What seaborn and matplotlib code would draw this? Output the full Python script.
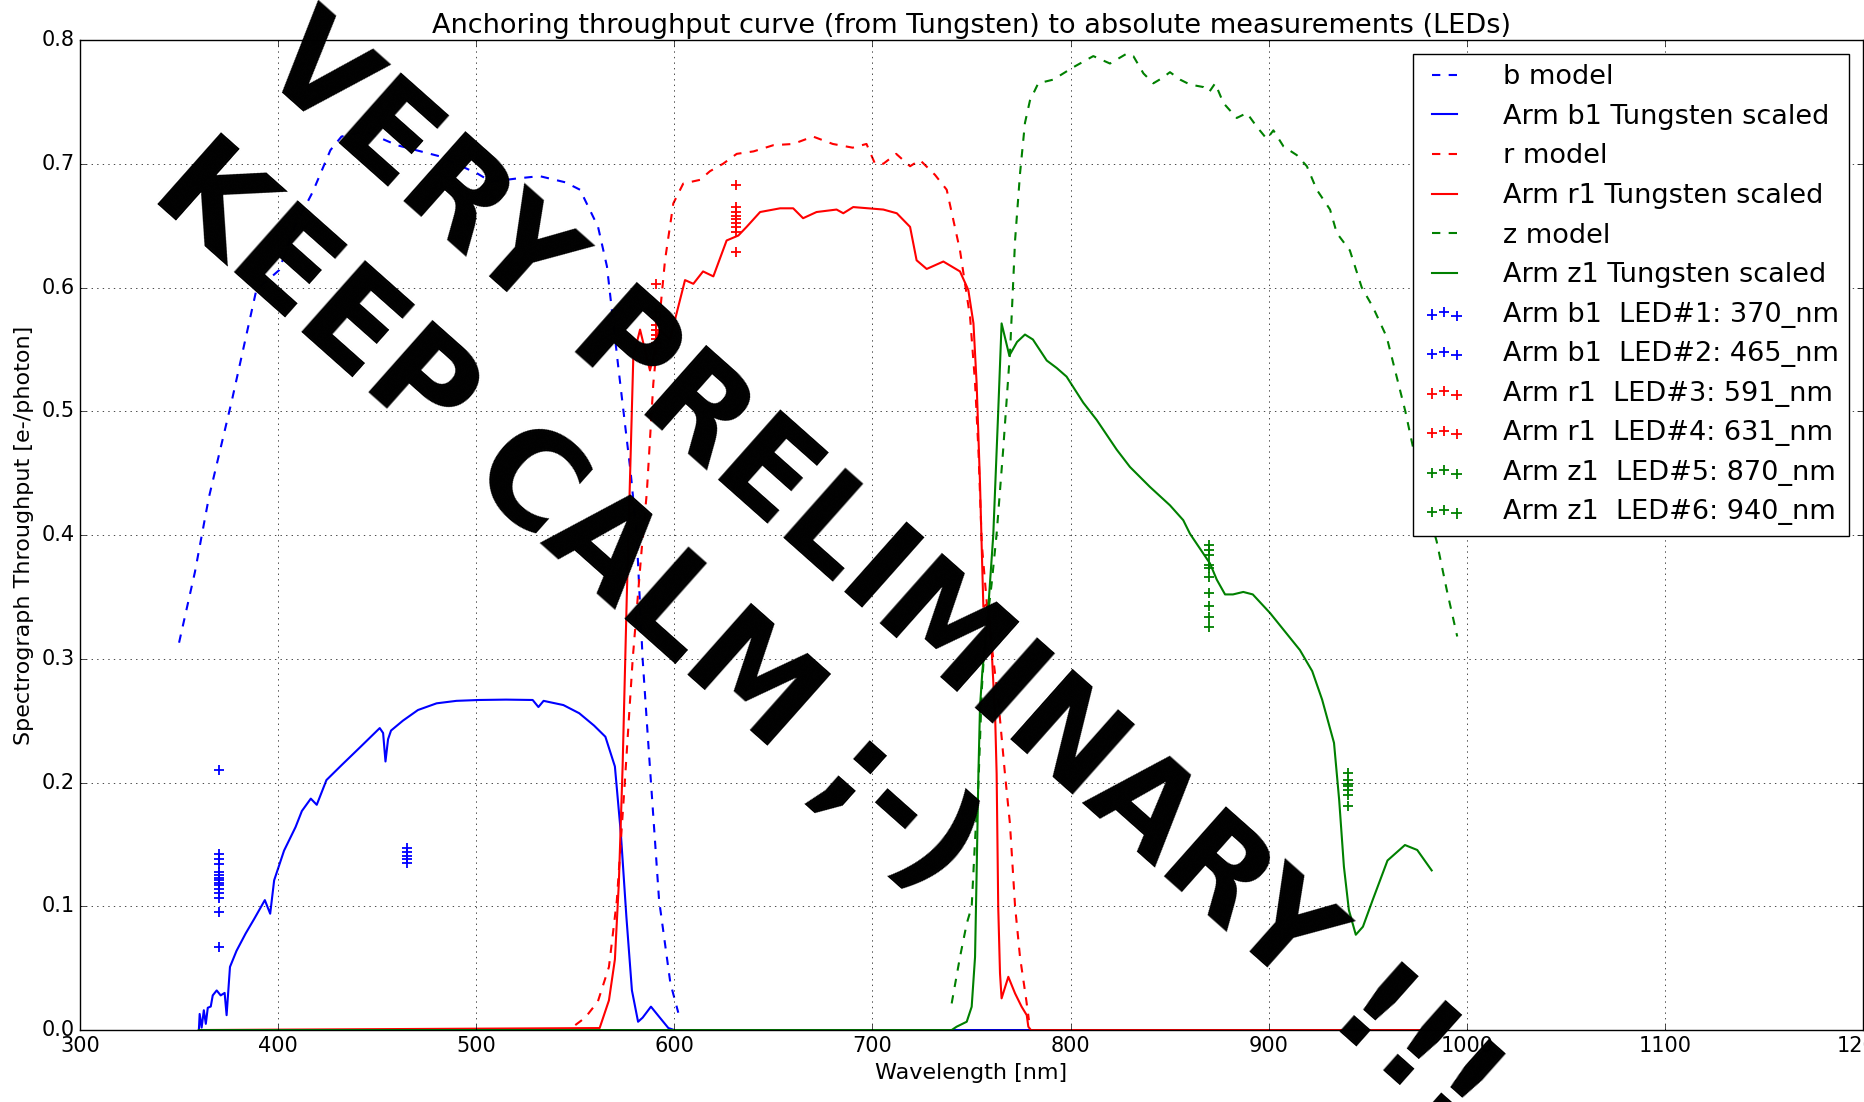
import numpy as np
import seaborn as sns
import matplotlib
matplotlib.use("Agg")
import matplotlib.pyplot as plt

# model curves (dashed)
b_model_wl = [350, 358, 365, 376.7, 389, 400.5, 408.3, 417.4, 426.4, 432, 444, 460, 481.6, 500.7, 507.5,
              520, 532, 545, 552.4, 561.5, 566, 571.7, 578, 581, 584, 586.5, 592.3, 598, 602]
b_model = [0.313, 0.37, 0.43, 0.509, 0.598, 0.614, 0.649, 0.677, 0.711, 0.722, 0.726, 0.715, 0.706, 0.692, 0.6855,
           0.688, 0.69, 0.685, 0.679, 0.649, 0.617, 0.536, 0.45, 0.40, 0.30, 0.24, 0.105, 0.038, 0.014]

r_model_wl = [550, 555, 561.4, 567, 571, 575, 579, 583.5, 586.1, 589.4, 595.3, 599.5, 604.5, 613, 618, 624.6,
              631.5, 640, 650, 660, 670, 680, 690, 697, 701.3, 705.5, 712, 719, 724, 731.6, 737.5, 744.2,
              749.3, 751.8, 753.5, 755.2, 758, 761, 763.5, 766.9, 769.4, 772, 774.5, 777.5, 779]
r_model = [0.004, 0.01, 0.023, 0.051, 0.105, 0.2, 0.3, 0.388, 0.434, 0.5225, 0.622, 0.668, 0.684, 0.687, 0.694, 0.70,
           0.708, 0.71, 0.715, 0.716, 0.722, 0.716, 0.713, 0.716, 0.70, 0.70, 0.708, 0.698, 0.703, 0.691, 0.679, 0.63,
           0.576, 0.523, 0.469, 0.393, 0.34, 0.30, 0.267, 0.207, 0.167, 0.10, 0.059, 0.026, 0.008]

z_model_wl = [740, 744.2, 747.6, 750.1, 751.8, 753.5, 754.3, 755.2, 756.8, 760.2, 762.7, 766, 769.5, 772, 774.5,
              777, 779.5, 783.7, 791.3, 801.4, 811.5, 819.9, 828.4, 831.7, 836.8, 841.8, 846, 850.2, 855.3, 860.3,
              867, 870, 873, 877.2, 883.9, 889, 894, 899.1, 902.4, 907.5, 914.2, 919.3, 924.3, 931, 934.4, 941,
              947, 952.7, 959.6, 969, 977, 984.8, 990, 995.2]
z_model = [0.0215, 0.059, 0.086, 0.0996, 0.1535, 0.199, 0.234, 0.275, 0.315, 0.361, 0.401, 0.469, 0.549, 0.638, 0.692,
           0.733, 0.751, 0.765, 0.768, 0.778, 0.787, 0.781, 0.789, 0.787, 0.773, 0.765, 0.769, 0.774, 0.768, 0.764,
           0.762, 0.758, 0.765, 0.749, 0.737, 0.741, 0.730, 0.72, 0.727, 0.714, 0.707, 0.698, 0.679, 0.663, 0.644, 0.63,
           0.60, 0.584, 0.56, 0.50, 0.44, 0.395, 0.355, 0.318]

# tungsten scaled curves (solid)
b1_wl = [360, 360.4, 361.4, 362.5, 363.5, 364.5, 366, 367, 369, 371, 373, 374, 375.7, 379, 383.6, 388, 393.3, 396,
         398, 403, 408.8, 412, 416.5, 419.5, 424.4, 432, 441.7, 451.3, 453, 454.2, 455.5, 457, 463, 470.6, 480, 490,
         501.4, 515, 528.5, 531.4, 534, 544, 552, 559.5, 565.2, 570, 573, 575.8, 578.6, 581.7, 584, 588.2, 592.3,
         597, 600, 982]
b1 = [0, 0.013, 0.002, 0.016, 0.005, 0.018, 0.019, 0.028, 0.032, 0.028, 0.03, 0.012, 0.051, 0.064, 0.078, 0.09, 0.105,
      0.094, 0.121, 0.145, 0.164, 0.177, 0.187, 0.182, 0.202, 0.214, 0.229, 0.244, 0.240, 0.217, 0.235, 0.242, 0.250,
      0.2586, 0.264, 0.266, 0.2667, 0.267, 0.2667, 0.261, 0.266, 0.2626, 0.256, 0.246, 0.237, 0.213, 0.159, 0.0916,
      0.032, 0.0067, 0.01, 0.0189, 0.0108, 0.0016, 0, 0]

r1_wl = [360, 562.3, 567, 570, 572, 573.9, 576, 579.3, 582.7, 587.7, 592.8, 597.8, 602, 605.4, 609.6, 614.5, 619.7,
         626.4, 632.3, 636.5, 643.3, 653.4, 660, 665, 671.8, 681.9, 685.3, 690.3, 705.5, 712.3, 719, 722.3, 727.4,
         735.8, 744.2, 748.4, 751, 752.6, 754.3, 755.2, 756, 758.5, 760.2, 762, 762.7, 763.5, 764.4, 765.2, 768.6,
         772, 775.3, 777.9, 778.7, 780, 982]
r1 = [0, 0.0016, 0.024, 0.057, 0.119, 0.213, 0.35, 0.544, 0.566, 0.533, 0.566, 0.558, 0.5845, 0.606, 0.603, 0.613,
      0.609, 0.638, 0.642, 0.649, 0.661, 0.664, 0.664, 0.656, 0.661, 0.663, 0.660, 0.665, 0.663, 0.660, 0.649, 0.622,
      0.615, 0.621, 0.613, 0.598, 0.571, 0.5225, 0.442, 0.388, 0.342, 0.345, 0.307, 0.25, 0.207, 0.0996, 0.0458,
      0.0256, 0.043, 0.0296, 0.0189, 0.012, 0.0027, 0, 0]

z1_wl = [360, 740, 742.5, 747.6, 750.1, 751.8, 752.6, 753.5, 754.3, 755.5, 758, 761, 763.5, 765.2, 769.1, 773, 777,
         781, 788, 793, 798, 806.4, 813.2, 823.3, 830, 840, 850.2, 856.9, 860.3, 870.4, 873.8, 878, 882, 887.2, 892,
         900.7, 915.8, 922, 927, 933, 935.6, 938, 940.5, 944, 947.6, 952.5, 960, 968.8, 975, 982.3]
z1 = [0, 0, 0.0027, 0.0067, 0.0188, 0.059, 0.127, 0.207, 0.261, 0.29, 0.33, 0.40, 0.50, 0.571, 0.545, 0.556, 0.562,
      0.558, 0.541, 0.535, 0.528, 0.507, 0.493, 0.469, 0.455, 0.439, 0.424, 0.412, 0.401, 0.377, 0.364, 0.352, 0.352,
      0.354, 0.352, 0.337, 0.307, 0.29, 0.267, 0.232, 0.186, 0.132, 0.097, 0.077, 0.0835, 0.105, 0.137, 0.1495,
      0.1455, 0.129]

# LED absolute measurements
led_nm = [370, 465, 591, 631, 870, 940]
led_arm = ["b1", "b1", "r1", "r1", "z1", "z1"]
led_colors = ["b", "b", "r", "r", "g", "g"]
led1 = [0.210, 0.142, 0.138, 0.134, 0.128, 0.125, 0.123, 0.121, 0.119, 0.117, 0.114, 0.111, 0.107, 0.095, 0.067]
led2 = [0.147, 0.144, 0.141, 0.138, 0.135]
led3 = [0.603, 0.58, 0.575, 0.57, 0.566, 0.562, 0.558, 0.555, 0.551]
led4 = [0.683, 0.665, 0.661, 0.658, 0.655, 0.652, 0.649, 0.645, 0.629]
led5 = [0.392, 0.388, 0.384, 0.376, 0.373, 0.366, 0.353, 0.343, 0.334, 0.326]
led6 = [0.208, 0.202, 0.199, 0.197, 0.194, 0.19, 0.181]
led_vals = [led1, led2, led3, led4, led5, led6]

plt.style.use("classic")
plt.rcParams["font.family"] = ["DejaVu Sans"]

fig = plt.figure(figsize=(18.65, 11.02), dpi=100, facecolor="white")
ax = fig.add_axes([0.0429, 0.0653, 0.956, 0.8984])

curves = [("b", b_model_wl, b_model, b1_wl, b1),
          ("r", r_model_wl, r_model, r1_wl, r1),
          ("z", z_model_wl, z_model, z1_wl, z1)]
colmap = {"b": "b", "r": "r", "z": "g"}
for arm, mwl, m, twl, t in curves:
    sns.lineplot(x=mwl, y=m, ax=ax, color=colmap[arm], linestyle="--", lw=1.5, sort=False,
                 estimator=None, label=f"{arm} model")
    sns.lineplot(x=twl, y=t, ax=ax, color=colmap[arm], lw=1.5, sort=False,
                 estimator=None, label=f"Arm {arm}1 Tungsten scaled")

for i, (nm, arm, c, vals) in enumerate(zip(led_nm, led_arm, led_colors, led_vals)):
    sns.scatterplot(x=[nm] * len(vals), y=vals, ax=ax, marker="+", color=c, s=55, linewidth=1.3,
                    label=f"Arm {arm}  LED#{i + 1}: {nm}_nm")

ax.set_xlim(300, 1200)
ax.set_ylim(0, 0.8)
ax.set_xticks(np.arange(300, 1201, 100))
ax.set_yticks(np.arange(0, 0.81, 0.1))
ax.set_yticklabels([f"{v:.1f}" for v in np.arange(0, 0.81, 0.1)])
ax.tick_params(labelsize=15)
ax.grid(True, color="k", linestyle=":")
ax.set_xlabel("Wavelength [nm]", fontsize=16)
ax.set_ylabel("Spectrograph Throughput [e-/photon]", fontsize=16)
ax.set_title("Anchoring throughput curve (from Tungsten) to absolute measurements (LEDs)", fontsize=19.5)

ax.legend(loc="upper right", fontsize=19.5, handlelength=1.5, handletextpad=1.4, labelspacing=0.5,
          borderaxespad=0.5, scatterpoints=3, frameon=True, fancybox=False)

# watermark
fig.text(0.137, 0.938, "VERY PRELIMINARY !!!", fontsize=92, fontweight="bold", color="black",
         rotation=-41.6, rotation_mode="anchor", ha="left", va="baseline")
fig.text(0.079, 0.822, "KEEP CALM ;-)", fontsize=95, fontweight="bold", color="black",
         rotation=-41.6, rotation_mode="anchor", ha="left", va="baseline")

fig.savefig("out.png", dpi=100, facecolor="white")
